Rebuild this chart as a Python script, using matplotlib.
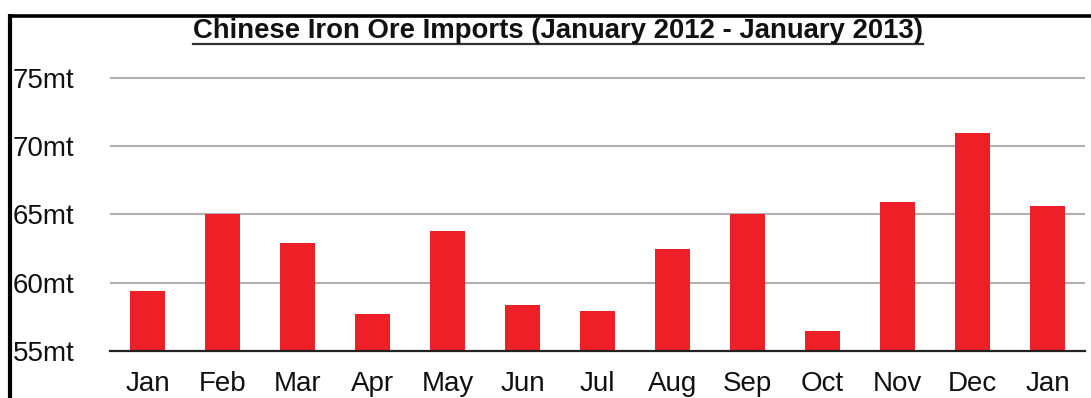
import matplotlib
matplotlib.use("Agg")
import matplotlib.pyplot as plt
from matplotlib.lines import Line2D

plt.rcParams['font.family'] = ['Liberation Sans', 'DejaVu Sans']

months = ['Jan', 'Feb', 'Mar', 'Apr', 'May', 'Jun', 'Jul',
          'Aug', 'Sep', 'Oct', 'Nov', 'Dec', 'Jan']
imports_mt = [59.4, 65.0, 62.9, 57.7, 63.8, 58.4, 57.9,
              62.5, 65.0, 56.5, 65.9, 71.0, 65.6]
y_ticks = [55, 60, 65, 70, 75]
y_labels = ['55mt', '60mt', '65mt', '70mt', '75mt']
title = 'Chinese Iron Ore Imports (January 2012 - January 2013)'

W, H = 1091, 398
fig = plt.figure(figsize=(W / 100, H / 100), dpi=100)
ax = fig.add_axes([110 / W, (H - 351) / H, (1085 - 110) / W, (351 - 64.3) / H])

x = range(len(months))
ax.bar(x, imports_mt, width=0.46, bottom=0, color='#ee1f27', zorder=3)
ax.set_xlim(-0.5, len(months) - 0.5)
ax.set_ylim(55, 76)

for s in ['top', 'right', 'left']:
    ax.spines[s].set_visible(False)
ax.spines['bottom'].set_color('#222222')
ax.spines['bottom'].set_linewidth(1.6)
ax.spines['bottom'].set_zorder(4)

ax.set_yticks(y_ticks)
ax.set_yticklabels(y_labels, fontsize=20, ha='left', color='#111111')
ax.tick_params(axis='y', length=0, pad=97 * 0.72)
ax.set_xticks(list(x))
ax.set_xticklabels(months, fontsize=20, color='#111111')
ax.tick_params(axis='x', length=0, pad=14.5)
for lbl in ax.get_xticklabels() + ax.get_yticklabels():
    lbl.set_fontweight('medium')
for t in y_ticks[1:]:
    ax.axhline(t, color='#b0b0b0', lw=1.5, zorder=1)

# frame lines visible on left and top
fig.add_artist(Line2D([10 / W, 10 / W], [0, 1 - 14 / H], color='black', lw=3,
                      solid_capstyle='butt'))
fig.add_artist(Line2D([8.5 / W, 1], [1 - 15.7 / H, 1 - 15.7 / H], color='black', lw=2.6,
                      solid_capstyle='butt'))

ttl = fig.text(558 / W, 1 - 38.5 / H, title, ha='center', va='baseline',
               fontsize=19.8, fontweight='bold', color='#111111')
fig.canvas.draw()
bb = ttl.get_window_extent(fig.canvas.get_renderer())
uy = 1 - 43.5 / H
fig.add_artist(Line2D([bb.x0 / W, bb.x1 / W], [uy, uy], color='#333333', lw=1.6))

fig.savefig('out.png', dpi=100)
